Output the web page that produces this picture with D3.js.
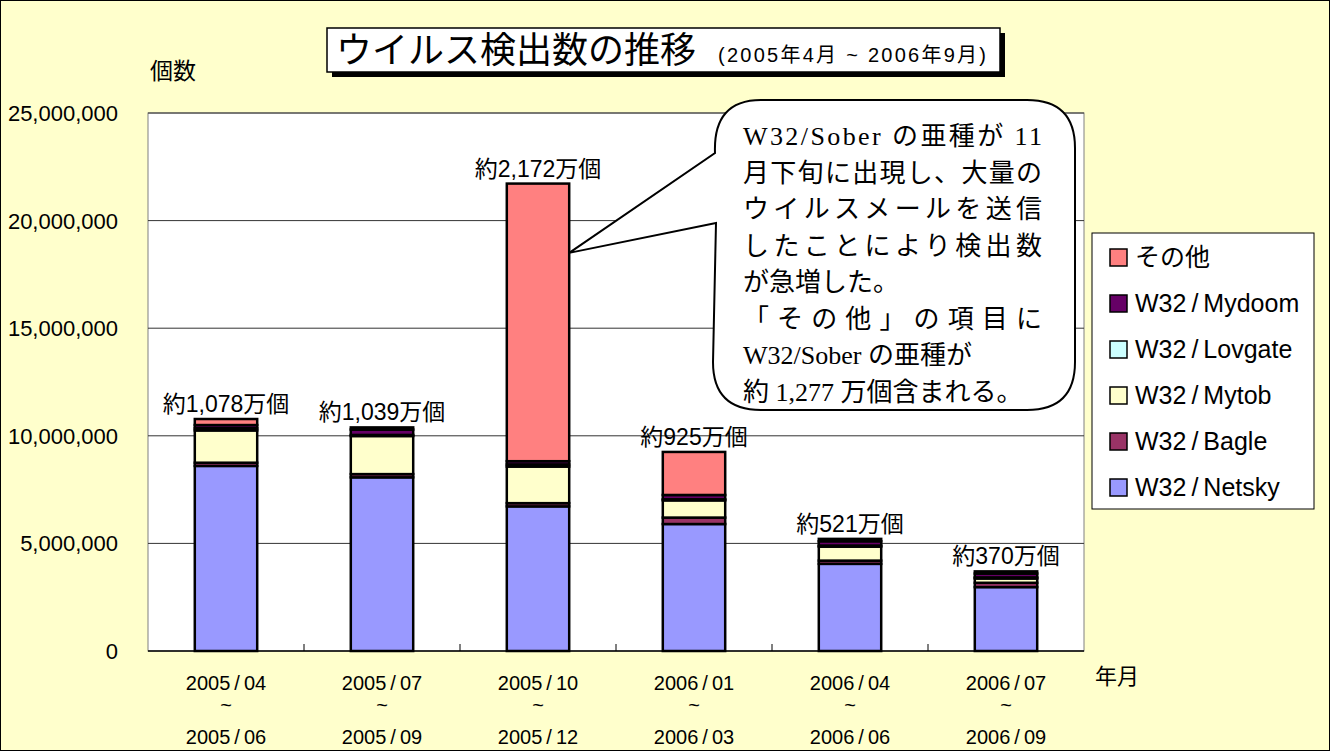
<!DOCTYPE html>
<html>

<head>
    <meta charset="utf-8">

    <!-- Load d3.js -->
    <script src="https://d3js.org/d3.v7.min.js"></script>
    <style>
        body { margin: 0; }
    </style>
</head>

<body>

    <!-- Create a div where the graph will take place -->
    <div id="my_dataviz"></div>

    <script>
        // data (counts per quarter)
        const periodStart = ["2005/04", "2005/07", "2005/10", "2006/01", "2006/04", "2006/07"];
        const periodEnd = ["2005/06", "2005/09", "2005/12", "2006/03", "2006/06", "2006/09"];
        const netsky = [8600000, 8070000, 6720000, 5900000, 4050000, 2970000];
        const bagle = [150000, 150000, 150000, 300000, 150000, 200000];
        const mytob = [1500000, 1770000, 1700000, 800000, 650000, 200000];
        const lovgate = [100000, 50000, 100000, 50000, 50000, 50000];
        const mydoom = [150000, 250000, 150000, 200000, 200000, 180000];
        const other = [280000, 100000, 12900000, 2000000, 110000, 100000];
        const totalLabels = ["約1,078万個", "約1,039万個", "約2,172万個", "約925万個", "約521万個", "約370万個"];

        const seriesKeys = ["netsky", "bagle", "mytob", "lovgate", "mydoom", "other"];
        const seriesNames = ["W32/Netsky", "W32/Bagle", "W32/Mytob", "W32/Lovgate", "W32/Mydoom", "その他"];
        const seriesColors = ["#9999FF", "#993366", "#FFFFCC", "#CCFFFF", "#660066", "#FF8080"];
        const yTicks = [0, 5000000, 10000000, 15000000, 20000000, 25000000];

        const calloutLines = [
            ["W32/Sober の亜種が 11", true],
            ["月下旬に出現し、大量の", true],
            ["ウイルスメールを送信", true],
            ["したことにより検出数", true],
            ["が急増した。", false],
            ["「その他」の項目に", true],
            ["W32/Sober の亜種が", false],
            ["約 1,277 万個含まれる。", false]
        ];

        const W = 1330, H = 751;
        const plot = { left: 148, top: 113, right: 1084, bottom: 651 };
        const sans = "'Liberation Sans', 'Noto Sans CJK JP', sans-serif";
        // the original font draws a little air around the slash
        const spaced = s => s.replace("/", "\u2009/\u2009");

        // build rows for the stack
        const rows = periodStart.map((p, i) => ({
            period: p, netsky: netsky[i], bagle: bagle[i], mytob: mytob[i],
            lovgate: lovgate[i], mydoom: mydoom[i], other: other[i]
        }));
        const stacked = d3.stack().keys(seriesKeys)(rows);

        const svg = d3.select("#my_dataviz")
            .append("svg")
            .attr("width", W)
            .attr("height", H)
            .style("font-family", sans);

        // chart background
        svg.append("rect")
            .attr("x", 0.5).attr("y", 0.5)
            .attr("width", W - 1).attr("height", H - 1)
            .attr("fill", "#FFFFCC")
            .attr("stroke", "#000");

        // scales
        const x = d3.scaleBand()
            .domain(periodStart)
            .range([plot.left, plot.right])
            .paddingInner(0.6)
            .paddingOuter(0.3);
        const y = d3.scaleLinear()
            .domain([0, 25000000])
            .range([plot.bottom, plot.top]);

        // plot area
        svg.append("rect")
            .attr("x", plot.left).attr("y", plot.top)
            .attr("width", plot.right - plot.left).attr("height", plot.bottom - plot.top)
            .attr("fill", "#fff")
            .attr("stroke", "#808080");

        // gridlines + y labels
        svg.append("g")
            .selectAll("line")
            .data(yTicks.slice(1))
            .join("line")
            .attr("x1", plot.left).attr("x2", plot.right)
            .attr("y1", d => y(d)).attr("y2", d => y(d))
            .attr("stroke", "#333")
            .attr("stroke-width", 1);

        svg.append("g")
            .selectAll("text")
            .data(yTicks)
            .join("text")
            .attr("x", 118)
            .attr("y", d => y(d) + 8)
            .attr("text-anchor", "end")
            .attr("font-size", 22)
            .text(d => d3.format(",")(d));

        // x baseline and category tick marks
        svg.append("line")
            .attr("x1", plot.left).attr("x2", plot.right)
            .attr("y1", plot.bottom).attr("y2", plot.bottom)
            .attr("stroke", "#000").attr("stroke-width", 1.5);

        const step = x.step();
        svg.append("g")
            .selectAll("line")
            .data(periodStart.slice(1))
            .join("line")
            .attr("x1", d => x(d) - (step - x.bandwidth()) / 2)
            .attr("x2", d => x(d) - (step - x.bandwidth()) / 2)
            .attr("y1", plot.bottom).attr("y2", plot.bottom - 7)
            .attr("stroke", "#000");

        // x labels (three lines each)
        const xl = svg.append("g")
            .selectAll("g")
            .data(periodStart)
            .join("g")
            .attr("transform", d => `translate(${x(d) + x.bandwidth() / 2},0)`)
            .attr("text-anchor", "middle")
            .attr("font-size", 20);
        xl.append("text").attr("y", 690).text(d => spaced(d));
        xl.append("text").attr("y", 712).text("~");
        xl.append("text").attr("y", 744).text((d, i) => spaced(periodEnd[i]));

        // stacked bars
        svg.append("g")
            .selectAll("g")
            .data(stacked)
            .join("g")
            .attr("fill", (d, i) => seriesColors[i])
            .selectAll("rect")
            .data(d => d)
            .join("rect")
            .attr("x", d => x(d.data.period))
            .attr("y", d => y(d[1]))
            .attr("width", x.bandwidth())
            .attr("height", d => y(d[0]) - y(d[1]))
            .attr("stroke", "#000")
            .attr("stroke-width", 2.5);

        // total labels
        const topLayer = stacked[stacked.length - 1];
        svg.append("g")
            .selectAll("text")
            .data(topLayer)
            .join("text")
            .attr("x", d => x(d.data.period) + x.bandwidth() / 2)
            .attr("y", d => y(d[1]) - 7)
            .attr("text-anchor", "middle")
            .attr("font-size", 23)
            .text((d, i) => totalLabels[i]);

        // axis titles
        svg.append("text").attr("x", 150).attr("y", 79).attr("font-size", 23).text("個数");
        svg.append("text").attr("x", 1095).attr("y", 684).attr("font-size", 22).text("年月");

        // title box with shadow
        svg.append("rect").attr("x", 332).attr("y", 33).attr("width", 673).attr("height", 44).attr("fill", "#000");
        svg.append("rect").attr("x", 327).attr("y", 28).attr("width", 673).attr("height", 44)
            .attr("fill", "#fff").attr("stroke", "#000").attr("stroke-width", 1.5);
        svg.append("text").attr("x", 336).attr("y", 63)
            .attr("font-family", "'Noto Sans CJK JP', sans-serif")
            .attr("font-size", 36).text("ウイルス検出数の推移");
        svg.append("text").attr("x", 718).attr("y", 62)
            .attr("font-size", 20)
            .attr("textLength", 268).attr("lengthAdjust", "spacing")
            .text("(2005年4月 ~ 2006年9月)");

        // callout bubble pointing at the 2005/10 bar
        const bx0 = 713, by0 = 100, bx1 = 1075, by1 = 410, r = 48;
        const tip = [x(periodStart[2]) + x.bandwidth(), y(18500000)];
        const bubble = d3.path();
        bubble.moveTo(bx0 + r, by0);
        bubble.lineTo(bx1 - r, by0);
        bubble.quadraticCurveTo(bx1, by0, bx1, by0 + r);
        bubble.lineTo(bx1, by1 - r);
        bubble.quadraticCurveTo(bx1, by1, bx1 - r, by1);
        bubble.lineTo(bx0 + r, by1);
        bubble.quadraticCurveTo(bx0, by1, bx0, by1 - r);
        bubble.lineTo(bx0 + 3, 223);
        bubble.lineTo(tip[0], tip[1]);
        bubble.lineTo(bx0 + 2, 153);
        bubble.quadraticCurveTo(bx0, by0, bx0 + r, by0);
        bubble.closePath();
        svg.append("path")
            .attr("d", bubble.toString())
            .attr("fill", "#fff")
            .attr("stroke", "#000")
            .attr("stroke-width", 2);

        const ct = svg.append("g")
            .attr("font-family", "'Liberation Serif', 'Noto Sans CJK JP', serif")
            .attr("font-size", 26);
        calloutLines.forEach(([t, justify], i) => {
            const txt = ct.append("text")
                .attr("x", 743)
                .attr("y", 145 + i * 36.5)
                .text(t);
            if (justify) txt.attr("textLength", 299).attr("lengthAdjust", "spacing");
        });

        // legend
        const lg = svg.append("g");
        lg.append("rect").attr("x", 1092).attr("y", 233).attr("width", 222).attr("height", 276)
            .attr("fill", "#fff").attr("stroke", "#000");
        const order = d3.range(seriesKeys.length).reverse();
        const items = lg.selectAll("g")
            .data(order)
            .join("g")
            .attr("transform", (d, i) => `translate(1110,${257 + i * 46})`);
        items.append("rect")
            .attr("x", 0).attr("y", -8)
            .attr("width", 17).attr("height", 17)
            .attr("fill", d => seriesColors[d])
            .attr("stroke", "#000").attr("stroke-width", 1.5);
        items.append("text")
            .attr("x", 25).attr("y", 9)
            .attr("font-size", 25)
            .text(d => spaced(seriesNames[d]));
    </script>

</body>

</html>
